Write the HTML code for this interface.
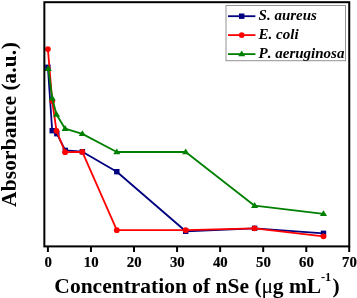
<!DOCTYPE html>
<html><head><meta charset="utf-8">
<style>
html,body{margin:0;padding:0;background:#fff;}
svg{display:block;}
text{font-family:"Liberation Serif","Times New Roman",serif;font-weight:bold;fill:#000;font-kerning:none;}
</style></head><body>
<svg width="357" height="298" viewBox="0 0 357 298">
<rect width="357" height="298" fill="#fff"/>
<rect x="226" y="5.5" width="119.5" height="55.2" fill="#fff" stroke="#939393" stroke-width="1"/>
<polyline fill="none" stroke-width="1.8" stroke-linejoin="round" stroke="#000080" points="47.90,67.3 52.21,130.7 56.81,133.7 65.32,150.4 82.35,151.7 116.80,171.7 185.69,231.3 254.59,228.3 323.48,233.3"/>
<g fill="#000080">
<rect x="45.20" y="64.60" width="5.4" height="5.4"/>
<rect x="49.51" y="128.00" width="5.4" height="5.4"/>
<rect x="54.11" y="131.00" width="5.4" height="5.4"/>
<rect x="62.62" y="147.70" width="5.4" height="5.4"/>
<rect x="79.65" y="149.00" width="5.4" height="5.4"/>
<rect x="114.10" y="169.00" width="5.4" height="5.4"/>
<rect x="182.99" y="228.60" width="5.4" height="5.4"/>
<rect x="251.89" y="225.60" width="5.4" height="5.4"/>
<rect x="320.78" y="230.60" width="5.4" height="5.4"/>
</g>
<polyline fill="none" stroke-width="1.8" stroke-linejoin="round" stroke="#ff0000" points="47.90,49.1 52.21,101.0 56.51,130.8 65.12,152.2 82.35,151.9 116.80,230.15 185.69,230.15 254.59,228.3 323.48,236.3"/>
<g fill="#ff0000">
<circle cx="47.90" cy="49.1" r="2.9"/>
<circle cx="52.21" cy="101.0" r="2.9"/>
<circle cx="56.51" cy="130.8" r="2.9"/>
<circle cx="65.12" cy="152.2" r="2.9"/>
<circle cx="82.35" cy="151.9" r="2.9"/>
<circle cx="116.80" cy="230.15" r="2.9"/>
<circle cx="185.69" cy="230.15" r="2.9"/>
<circle cx="254.59" cy="228.3" r="2.9"/>
<circle cx="323.48" cy="236.3" r="2.9"/>
</g>
<polyline fill="none" stroke-width="1.8" stroke-linejoin="round" stroke="#008000" points="48.30,68.7 52.21,98.3 56.51,114.5 65.12,128.7 82.35,133.9 116.80,152 185.69,152 254.59,205.7 323.48,213.8"/>
<g fill="#008000">
<path d="M48.30,65.10 l3.55,5.8 h-7.1z"/>
<path d="M52.21,94.70 l3.55,5.8 h-7.1z"/>
<path d="M56.51,110.90 l3.55,5.8 h-7.1z"/>
<path d="M65.12,125.10 l3.55,5.8 h-7.1z"/>
<path d="M82.35,130.30 l3.55,5.8 h-7.1z"/>
<path d="M116.80,148.40 l3.55,5.8 h-7.1z"/>
<path d="M185.69,148.40 l3.55,5.8 h-7.1z"/>
<path d="M254.59,202.10 l3.55,5.8 h-7.1z"/>
<path d="M323.48,210.20 l3.55,5.8 h-7.1z"/>
</g>
<rect x="44.35" y="2.2" width="304.9" height="244.2" fill="none" stroke="#000" stroke-width="2"/>
<g stroke="#000" stroke-width="2">
<line x1="47.90" y1="246.4" x2="47.90" y2="252"/>
<line x1="90.96" y1="246.4" x2="90.96" y2="252"/>
<line x1="134.02" y1="246.4" x2="134.02" y2="252"/>
<line x1="177.08" y1="246.4" x2="177.08" y2="252"/>
<line x1="220.14" y1="246.4" x2="220.14" y2="252"/>
<line x1="263.20" y1="246.4" x2="263.20" y2="252"/>
<line x1="306.26" y1="246.4" x2="306.26" y2="252"/>
<line x1="349.20" y1="246.4" x2="349.20" y2="252"/>
</g>
<g font-size="14.8" text-anchor="middle" stroke="#000" stroke-width="0.2">
<text x="48.10" y="266.5">0</text>
<text x="91.16" y="266.5">10</text>
<text x="134.22" y="266.5">20</text>
<text x="177.28" y="266.5">30</text>
<text x="220.34" y="266.5">40</text>
<text x="263.40" y="266.5">50</text>
<text x="306.46" y="266.5">60</text>
<text x="349.40" y="266.5">70</text>
</g>
<g stroke-width="1.8">
<line x1="228" y1="16.2" x2="255.4" y2="16.2" stroke="#000080"/>
<line x1="228" y1="35.1" x2="255.4" y2="35.1" stroke="#ff0000"/>
<line x1="228" y1="54.1" x2="255.4" y2="54.1" stroke="#008000"/>
</g>
<rect x="239.00" y="13.50" width="5.4" height="5.4" fill="#000080"/>
<circle cx="241.7" cy="35.1" r="2.9" fill="#ff0000"/>
<g fill="#008000"><path d="M241.70,50.50 l3.55,5.8 h-7.1z"/></g>
<g font-size="15" font-style="italic">
<text x="258.6" y="20.4">S. aureus</text>
<text x="258.6" y="39.05">E. coli</text>
<text x="258.6" y="57.8">P. aeruginosa</text>
</g>
<text x="197.0" y="292.6" font-size="21.5" text-anchor="middle">Concentration of nSe (<tspan font-weight="normal">μ</tspan><tspan dx="-0.3">g mL</tspan><tspan dy="-11.8" dx="-0.3" font-size="12.3">-1</tspan><tspan dy="11.8" dx="1.3">)</tspan></text>
<text transform="translate(16,124.4) rotate(-90)" font-size="21.4" letter-spacing="0.17" text-anchor="middle">Absorbance (<tspan dx="-0.6">a.u.</tspan><tspan dx="0.6">)</tspan></text>
</svg>
</body></html>
